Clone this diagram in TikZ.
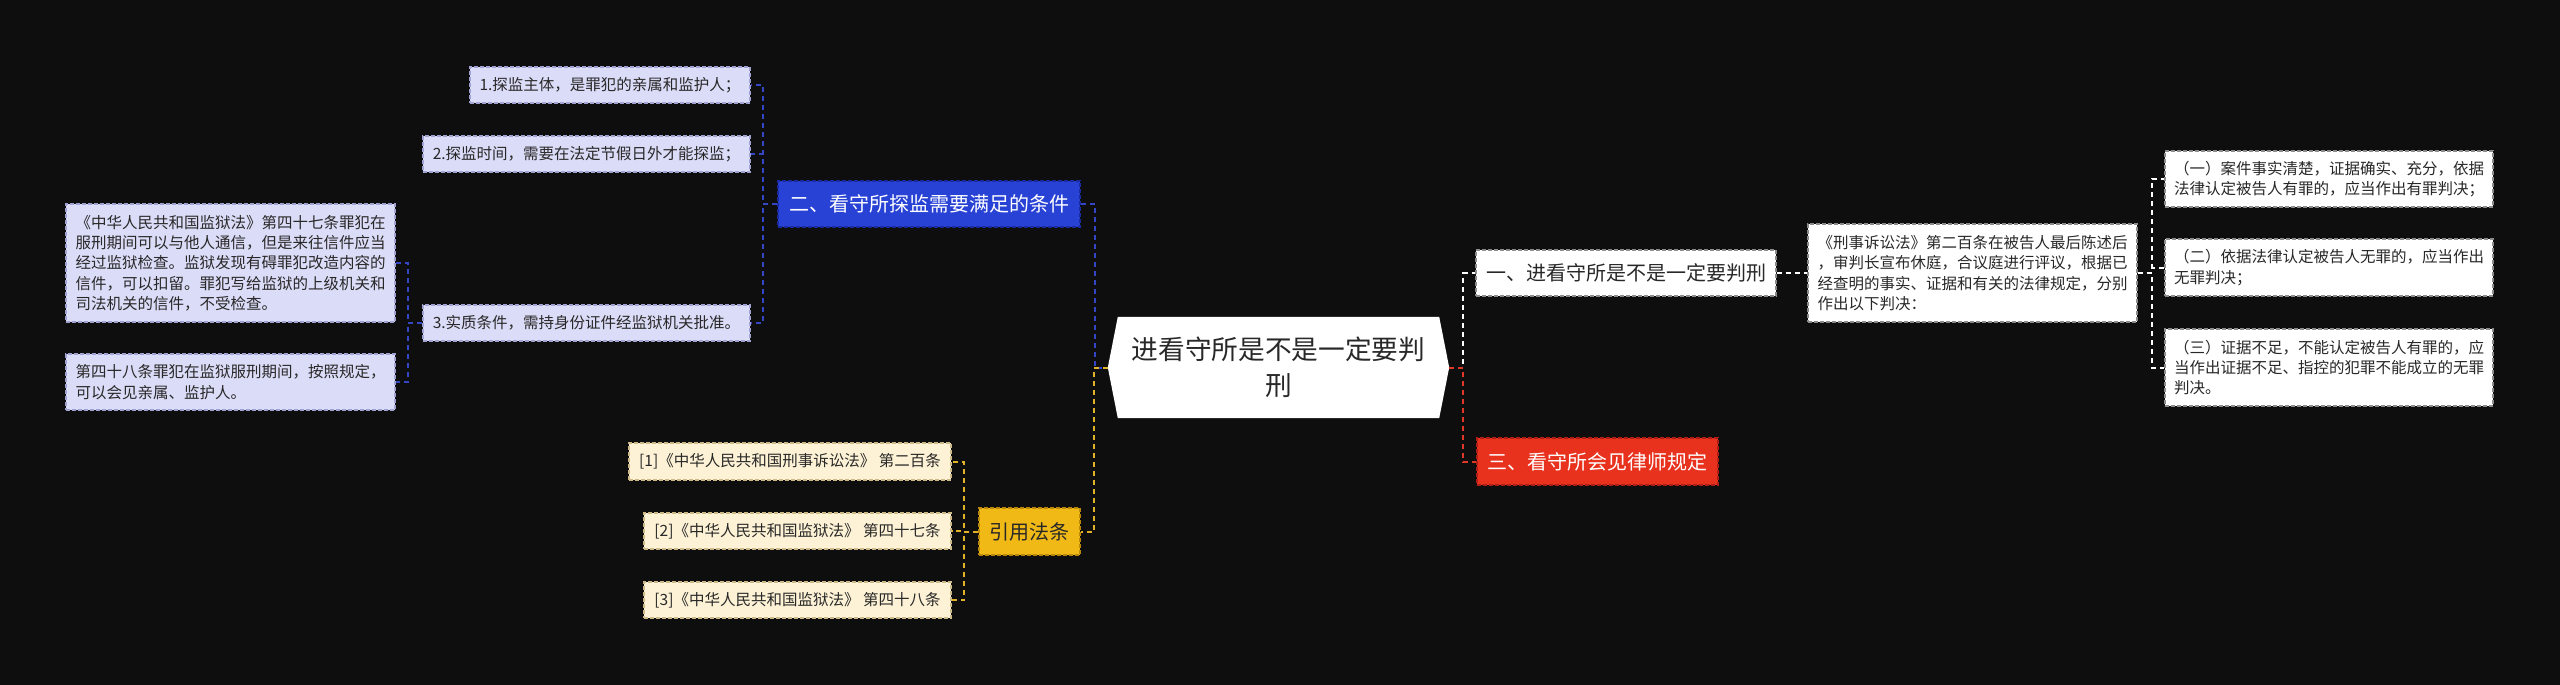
\documentclass[tikz,border=0pt]{standalone}
\usepackage{fontspec}
\setmainfont{Noto Sans CJK SC}
\usetikzlibrary{calc}
\pgfdeclarelayer{back}
\pgfsetlayers{back,main}
\definecolor{bgc}{RGB}{14,14,14}
\definecolor{bluen}{RGB}{40,66,214}
\definecolor{bluenb}{RGB}{26,42,160}
\definecolor{bluel}{RGB}{219,220,247}
\definecolor{bluelb}{RGB}{160,162,210}
\definecolor{bluec}{RGB}{52,70,196}
\definecolor{yelln}{RGB}{240,185,22}
\definecolor{yellnb}{RGB}{185,135,10}
\definecolor{yelll}{RGB}{253,242,213}
\definecolor{yelllb}{RGB}{205,185,135}
\definecolor{yellc}{RGB}{224,178,40}
\definecolor{redn}{RGB}{232,50,30}
\definecolor{rednb}{RGB}{175,30,20}
\definecolor{redc}{RGB}{225,55,40}
\definecolor{whitenb}{RGB}{140,140,140}
\definecolor{txt}{RGB}{40,40,40}
\tikzset{
  boxbase/.style={rectangle, inner xsep=9pt, inner ysep=0pt, line width=1.2pt, dash pattern=on 4pt off 2pt},
  midfont/.style={font=\fontsize{20}{26}\selectfont},
  leaffont/.style={font=\fontsize{15.5}{20.3}\selectfont},
  bluemain/.style={boxbase, midfont, fill=bluen, draw=bluenb, text=white},
  yellmain/.style={boxbase, midfont, fill=yelln, draw=yellnb, text=txt},
  redmain/.style={boxbase, midfont, fill=redn, draw=rednb, text=white},
  whitemain/.style={boxbase, midfont, fill=white, draw=whitenb, text=txt},
  blueleaf/.style={boxbase, leaffont, fill=bluel, draw=bluelb, text=txt, align=left},
  yellleaf/.style={boxbase, leaffont, fill=yelll, draw=yelllb, text=txt, align=left},
  whiteleaf/.style={boxbase, leaffont, fill=white, draw=whitenb, text=txt, align=left},
  link/.style={line width=2pt, dash pattern=on 5pt off 4pt},
}
\begin{document}
\begin{tikzpicture}[x=1pt, y=-1pt]
\useasboundingbox (0,0) rectangle (2560,685);

% root
\node[font=\fontsize{26.7}{36}\selectfont, text=txt, align=center, minimum width=341, minimum height=101, inner sep=0pt] (root) at (1278.5,367.5) {进看守所是不是一定要判\\刑};

% main branches
\node[bluemain, minimum width=302, minimum height=46] (two) at (929,204) {二、看守所探监需要满足的条件};
\node[yellmain, minimum width=101, minimum height=47] (cite) at (1029.5,531.5) {引用法条};
\node[whitemain, minimum width=300, minimum height=46] (one) at (1626,273) {一、进看守所是不是一定要判刑};
\node[redmain, minimum width=241, minimum height=47] (three) at (1597.5,461.5) {三、看守所会见律师规定};

% blue leaves
\node[blueleaf, minimum width=280, minimum height=36] (b1) at (610,85) {1.探监主体，是罪犯的亲属和监护人；};
\node[blueleaf, minimum width=327, minimum height=36] (b2) at (586.5,154) {2.探监时间，需要在法定节假日外才能探监；};
\node[blueleaf, minimum width=327, minimum height=36] (b3) at (586.5,323) {3.实质条件，需持身份证件经监狱机关批准。};
\node[blueleaf, minimum width=329, minimum height=118] (bl1) at (230.5,263) {《中华人民共和国监狱法》第四十七条罪犯在\\服刑期间可以与他人通信，但是来往信件应当\\经过监狱检查。监狱发现有碍罪犯改造内容的\\信件，可以扣留。罪犯写给监狱的上级机关和\\司法机关的信件，不受检查。};
\node[blueleaf, minimum width=329, minimum height=56] (bl2) at (230.5,382) {第四十八条罪犯在监狱服刑期间，按照规定，\\可以会见亲属、监护人。};

% yellow leaves
\node[yellleaf, minimum width=322, minimum height=37] (y1) at (790,461.5) {[1]《中华人民共和国刑事诉讼法》 第二百条};
\node[yellleaf, minimum width=307, minimum height=36] (y2) at (797.5,531) {[2]《中华人民共和国监狱法》 第四十七条};
\node[yellleaf, minimum width=307, minimum height=36] (y3) at (797.5,600) {[3]《中华人民共和国监狱法》 第四十八条};

% white leaves
\node[whiteleaf, minimum width=329, minimum height=98] (w1) at (1972.5,273) {《刑事诉讼法》第二百条在被告人最后陈述后\\，审判长宣布休庭，合议庭进行评议，根据已\\经查明的事实、证据和有关的法律规定，分别\\作出以下判决：};
\node[whiteleaf, minimum width=328, minimum height=56] (r1) at (2329,179) {（一）案件事实清楚，证据确实、充分，依据\\法律认定被告人有罪的，应当作出有罪判决；};
\node[whiteleaf, minimum width=328, minimum height=57] (r2) at (2329,267.5) {（二）依据法律认定被告人无罪的，应当作出\\无罪判决；};
\node[whiteleaf, minimum width=328, minimum height=77] (r3) at (2329,367.5) {（三）证据不足，不能认定被告人有罪的，应\\当作出证据不足、指控的犯罪不能成立的无罪\\判决。};

\begin{pgfonlayer}{back}
  \fill[bgc] (0,0) rectangle (2560,685);
  \fill[white] ($(root.north west)+(10,0)$) -- ($(root.north east)+(-10,0)$) -- (root.east)
    -- ($(root.south east)+(-10,0)$) -- ($(root.south west)+(10,0)$) -- (root.west) -- cycle;
\end{pgfonlayer}

% connectors
\draw[link, bluec] (two.east) -- ++(14,0) |- (root.west);
\draw[link, yellc] (root.west) -- ++(-14,0) |- (cite.east);
\draw[link, white] (root.east) -- ++(14,0) |- (one.west);
\draw[link, redc] (root.east) -- ++(14,0) |- (three.west);

\draw[link, bluec] (two.west) -- ++(-14,0) |- (b1.east);
\draw[link, bluec] (two.west) -- ++(-14,0) |- (b2.east);
\draw[link, bluec] (two.west) -- ++(-14,0) |- (b3.east);
\draw[link, bluec] (b3.west) -- ++(-14,0) |- (bl1.east);
\draw[link, bluec] (b3.west) -- ++(-14,0) |- (bl2.east);

\draw[link, yellc] (cite.west) -- ++(-14,0) |- (y1.east);
\draw[link, yellc] (cite.west) -- ++(-14,0) |- (y2.east);
\draw[link, yellc] (cite.west) -- ++(-14,0) |- (y3.east);

\draw[link, white] (one.east) -- (w1.west);
\draw[link, white] (w1.east) -- ++(14,0) |- (r1.west);
\draw[link, white] (w1.east) -- ++(14,0) |- (r2.west);
\draw[link, white] (w1.east) -- ++(14,0) |- (r3.west);
\end{tikzpicture}
\end{document}
